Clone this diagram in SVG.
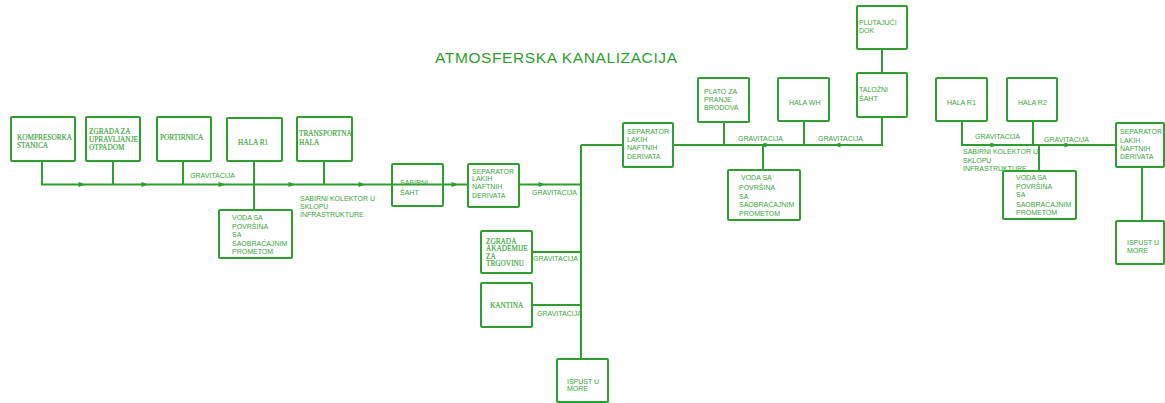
<svg xmlns="http://www.w3.org/2000/svg" width="1165" height="403" viewBox="0 0 1165 403">
<style>
.b{fill:#fff;stroke:#2e9e2e;stroke-width:2}
.l{fill:none;stroke:#2e9e2e;stroke-width:2}
.t{font-family:"Liberation Sans",Arial,sans-serif;font-size:7px;fill:#3aa63a}
.s{font-family:"Liberation Serif","Times New Roman",serif;font-size:7.3px;fill:#3aa63a;stroke:#3aa63a;stroke-width:0.15}
.title{font-family:"Liberation Sans",Arial,sans-serif;font-size:15.5px;fill:#2e9e2e}
.a{fill:#2e9e2e}
</style>
<defs>
<path id="ar" d="M-3.5,-2.5 L3.5,0 L-3.5,2.5 Z"/>
<path id="al" d="M3.5,-2.5 L-3.5,0 L3.5,2.5 Z"/>
</defs>
<rect width="1165" height="403" fill="#fff"/>
<text class="title" x="435" y="63" textLength="242">ATMOSFERSKA KANALIZACIJA</text>

<g id="connectors">
<path class="l" d="M42,161 V184.5 H468"/>
<path class="l" d="M113,161 V184.5"/>
<path class="l" d="M183,161 V184.5"/>
<path class="l" d="M254,161 V210"/>
<path class="l" d="M324,161 V184.5"/>
<path class="l" d="M519,184.5 H581"/>
<path class="l" d="M581,145 V359"/>
<path class="l" d="M532,252 H581"/>
<path class="l" d="M532,305 H581"/>
<path class="l" d="M581,145 H623"/>
<path class="l" d="M673,145 H882 V117"/>
<path class="l" d="M724,122 V145"/>
<path class="l" d="M804,121 V145"/>
<path class="l" d="M763,145 V170"/>
<path class="l" d="M882,49 V73"/>
<path class="l" d="M962,121 V145 H1116"/>
<path class="l" d="M1033,121 V145"/>
<path class="l" d="M1039,145 V171"/>
<path class="l" d="M1142,167 V221"/>
<use href="#ar" class="a" x="82" y="184.5"/>
<use href="#ar" class="a" x="145" y="184.5"/>
<use href="#ar" class="a" x="222" y="184.5"/>
<use href="#ar" class="a" x="292" y="184.5"/>
<use href="#ar" class="a" x="362" y="184.5"/>
<use href="#ar" class="a" x="455" y="184.5"/>
<use href="#ar" class="a" x="542" y="184.5"/>
<use href="#al" class="a" x="763" y="145"/>
<use href="#al" class="a" x="837" y="145"/>
<use href="#ar" class="a" x="994" y="145"/>
<use href="#ar" class="a" x="1068" y="145"/>
<text class="t" x="190" y="177.5">GRAVITACIJA</text>
<text class="t" x="300" y="200.5">SABIRNI KOLEKTOR U</text>
<text class="t" x="300" y="209">SKLOPU</text>
<text class="t" x="300" y="216.5">INFRASTRUKTURE</text>
<text class="t" x="532" y="194.5">GRAVITACIJA</text>
<text class="t" x="533" y="260.5">GRAVITACIJA</text>
<text class="t" x="537" y="315.5">GRAVITACIJA</text>
<text class="t" x="738" y="141">GRAVITACIJA</text>
<text class="t" x="818" y="140.5">GRAVITACIJA</text>
<text class="t" x="975" y="138.5">GRAVITACIJA</text>
<text class="t" x="1044" y="141.5">GRAVITACIJA</text>
<text class="t" x="963" y="153.5">SABIRNI KOLEKTOR U</text>
<text class="t" x="963" y="162.5">SKLOPU</text>
<text class="t" x="963" y="170.5">INFRASTRUKTURE</text>
</g>

<g id="kompresorka"><rect class="b" x="11" y="117" width="64" height="44" rx="1"/>
<text class="s" x="17" y="139.5">KOMPRESORKA</text><text class="s" x="17" y="147.5">STANICA</text></g>
<g id="zgrada-otpad"><rect class="b" x="86" y="117" width="54" height="44" rx="1"/>
<text class="s" x="89" y="133.5">ZGRADA ZA</text><text class="s" x="89" y="141.5">UPRAVLJANJE</text><text class="s" x="89" y="149.5">OTPADOM</text></g>
<g id="portirnica"><rect class="b" x="157" y="117" width="54" height="44" rx="1"/>
<text class="s" x="160" y="139.5">PORTIRNICA</text></g>
<g id="hala-r1-left"><rect class="b" x="227" y="118" width="55" height="43" rx="1"/>
<text class="s" x="238" y="144.5">HALA R1</text></g>
<g id="transportna"><rect class="b" x="297" y="117" width="55" height="44" rx="1"/>
<text class="s" x="299" y="135.5">TRANSPORTNA</text><text class="s" x="299" y="144.5">HALA</text></g>
<g id="voda1"><rect class="b" x="219" y="210" width="73" height="48" rx="1"/>
<text class="t" x="232" y="219.5">VODA SA</text><text class="t" x="232" y="228.5">POVRŠINA</text><text class="t" x="232" y="237">SA</text><text class="t" x="232" y="245.5">SAOBRAĆAJNIM</text><text class="t" x="232" y="254">PROMETOM</text></g>
<g id="sabirni-saht"><rect x="392" y="164" width="51" height="42" rx="1" fill="none" stroke="#2e9e2e" stroke-width="2"/>
<text class="t" x="400" y="184.5">SABIRNI</text><text class="t" x="400" y="194.5">ŠAHT</text></g>
<g id="separator1"><rect class="b" x="468" y="164" width="51" height="43" rx="1"/>
<text class="t" x="472" y="173.5">SEPARATOR</text><text class="t" x="472" y="180.5">LAKIH</text><text class="t" x="472" y="188.5">NAFTNIH</text><text class="t" x="472" y="197.5">DERIVATA</text></g>
<g id="zgrada-akademije"><rect class="b" x="481" y="231" width="51" height="42" rx="1"/>
<text class="s" x="486" y="243.5">ZGRADA</text><text class="s" x="486" y="250.5">AKADEMIJE</text><text class="s" x="486" y="258.5">ZA</text><text class="s" x="486" y="265.5">TRGOVINU</text></g>
<g id="kantina"><rect class="b" x="481" y="283" width="51" height="44" rx="1"/>
<text class="s" x="490" y="307.5">KANTINA</text></g>
<g id="ispust1"><rect class="b" x="557" y="359" width="51" height="43" rx="1"/>
<text class="t" x="567" y="383.5">ISPUST U</text><text class="t" x="567" y="390.5">MORE</text></g>
<g id="separator2"><rect class="b" x="623" y="123" width="50" height="44" rx="1"/>
<text class="t" x="627" y="133.5">SEPARATOR</text><text class="t" x="627" y="141.5">LAKIH</text><text class="t" x="627" y="149.5">NAFTNIH</text><text class="t" x="627" y="158.5">DERIVATA</text></g>
<g id="plato"><rect class="b" x="698" y="78" width="51" height="44" rx="1"/>
<text class="t" x="704" y="93.5">PLATO ZA</text><text class="t" x="704" y="101.5">PRANJE</text><text class="t" x="704" y="109.5">BRODOVA</text></g>
<g id="voda2"><rect class="b" x="728" y="170" width="72" height="50" rx="1"/>
<text class="t" x="741" y="179.5">VODA SA</text><text class="t" x="739" y="189.5">POVRŠINA</text><text class="t" x="739" y="198.5">SA</text><text class="t" x="739" y="206.5">SAOBRAĆAJNIM</text><text class="t" x="739" y="215.5">PROMETOM</text></g>
<g id="hala-wh"><rect class="b" x="778" y="78" width="51" height="43" rx="1"/>
<text class="t" x="789" y="104.5">HALA WH</text></g>
<g id="talozni"><rect class="b" x="857" y="73" width="50" height="44" rx="1"/>
<text class="t" x="859" y="91.5">TALOŽNI</text><text class="t" x="859" y="100.5">ŠAHT</text></g>
<g id="plutajuci"><rect class="b" x="857" y="6" width="50" height="43" rx="1"/>
<text class="t" x="859" y="24.5">PLUTAJUĆI</text><text class="t" x="859" y="32.5">DOK</text></g>
<g id="hala-r1"><rect class="b" x="936" y="78" width="51" height="43" rx="1"/>
<text class="t" x="947" y="104.5">HALA R1</text></g>
<g id="hala-r2"><rect class="b" x="1007" y="78" width="50" height="43" rx="1"/>
<text class="t" x="1018" y="104.5">HALA R2</text></g>
<g id="voda3"><rect class="b" x="1003" y="171" width="73" height="48" rx="1"/>
<text class="t" x="1016" y="179.5">VODA SA</text><text class="t" x="1016" y="188.5">POVRŠINA</text><text class="t" x="1016" y="196.5">SA</text><text class="t" x="1016" y="206.5">SAOBRAĆAJNIM</text><text class="t" x="1016" y="214.5">PROMETOM</text></g>
<g id="separator3"><rect class="b" x="1116" y="123" width="48" height="44" rx="1"/>
<text class="t" x="1120" y="133.5">SEPARATOR</text><text class="t" x="1120" y="142.5">LAKIH</text><text class="t" x="1120" y="150.5">NAFTNIH</text><text class="t" x="1120" y="158.5">DERIVATA</text></g>
<g id="ispust2"><rect class="b" x="1116" y="221" width="48" height="43" rx="1"/>
<text class="t" x="1127" y="244.5">ISPUST U</text><text class="t" x="1127" y="252.5">MORE</text></g>
</svg>
